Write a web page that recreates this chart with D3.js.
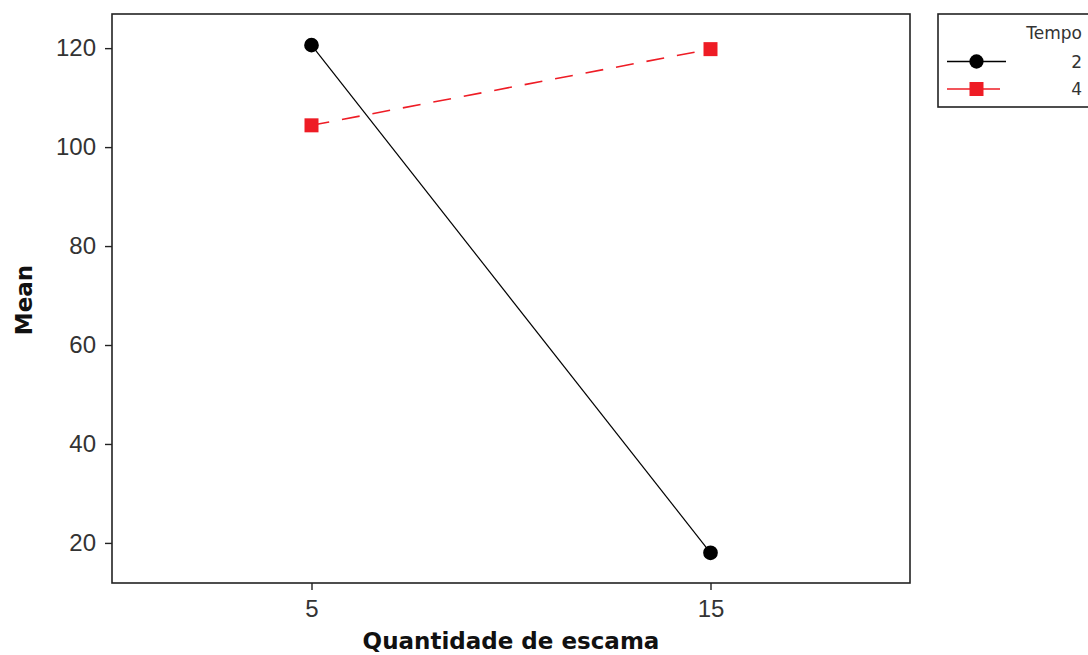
<!DOCTYPE html>
<html>
<head>
<meta charset="utf-8">
<script src="https://cdn.jsdelivr.net/npm/d3@7"></script>
<style>
  html, body { margin: 0; padding: 0; background: #fff; }
  svg { display: block; }
</style>
</head>
<body>
<svg id="chart" width="1088" height="655"></svg>
<script>
// Interaction plot: mean response by scale quantity for each time level
const xLevels = [5, 15];
const tempoLevels = ["2", "4"];
const meansTempo2 = [120.6, 18.0];
const meansTempo4 = [104.4, 119.8];
const yTicks = [20, 40, 60, 80, 100, 120];

const series = [
  { name: tempoLevels[0], values: meansTempo2, color: "#000000", dash: null, symbol: d3.symbolCircle },
  { name: tempoLevels[1], values: meansTempo4, color: "#ee1c25", dash: "18,13", symbol: d3.symbolSquare }
];

const svg = d3.select("#chart");
const box = { left: 112, right: 910, top: 14, bottom: 583 };
const font = "'DejaVu Sans', Verdana, sans-serif";
const tickFont = "'Liberation Sans', Arial, sans-serif";

const x = d3.scaleLinear().domain([0, 20]).range([box.left, box.right]);
const y = d3.scaleLinear().domain([11.9, 126.9]).range([box.bottom, box.top]);

// frame
svg.append("rect")
  .attr("x", box.left).attr("y", box.top)
  .attr("width", box.right - box.left).attr("height", box.bottom - box.top)
  .attr("fill", "none").attr("stroke", "#222").attr("stroke-width", 1.6);

// axes
const yAxis = svg.append("g")
  .attr("transform", `translate(${box.left},0)`)
  .call(d3.axisLeft(y).tickValues(yTicks).tickSize(7).tickPadding(9));
const xAxis = svg.append("g")
  .attr("transform", `translate(0,${box.bottom})`)
  .call(d3.axisBottom(x).tickValues(xLevels).tickSize(7).tickPadding(10));
[yAxis, xAxis].forEach(g => {
  g.select(".domain").remove();
  g.selectAll("line").attr("stroke", "#222").attr("stroke-width", 1.4);
  g.selectAll("text").attr("font-family", tickFont).attr("font-size", 24).attr("fill", "#333");
});

// axis titles
svg.append("text")
  .attr("x", (box.left + box.right) / 2).attr("y", 649)
  .attr("text-anchor", "middle")
  .attr("font-family", font).attr("font-weight", "bold").attr("font-size", 23)
  .attr("fill", "#111")
  .text("Quantidade de escama");
svg.append("text")
  .attr("transform", `translate(32,300) rotate(-90)`)
  .attr("text-anchor", "middle")
  .attr("font-family", font).attr("font-weight", "bold").attr("font-size", 23)
  .attr("fill", "#111")
  .text("Mean");

// series lines and markers
const line = d3.line().x((d, i) => x(xLevels[i])).y(d => y(d));
series.forEach(s => {
  svg.append("path")
    .datum(s.values)
    .attr("d", line)
    .attr("fill", "none")
    .attr("stroke", s.color)
    .attr("stroke-width", s.dash ? 1.6 : 1.2)
    .attr("stroke-dasharray", s.dash);
  svg.selectAll(null)
    .data(s.values)
    .enter().append("path")
    .attr("transform", (d, i) => `translate(${x(xLevels[i])},${y(d)})`)
    .attr("d", d3.symbol().type(s.symbol).size(s.symbol === d3.symbolSquare ? 196 : 170))
    .attr("fill", s.color);
});

// legend
const lg = svg.append("g");
lg.append("rect")
  .attr("x", 938).attr("y", 14).attr("width", 160).attr("height", 93)
  .attr("fill", "#fff").attr("stroke", "#222").attr("stroke-width", 1.6);
lg.append("text")
  .attr("x", 1082).attr("y", 39).attr("text-anchor", "end")
  .attr("font-family", font).attr("font-size", 17).attr("fill", "#333")
  .text("Tempo");
series.forEach((s, i) => {
  const yy = 61.5 + i * 27.5;
  lg.append("line")
    .attr("x1", 947).attr("x2", i === 0 ? 1006 : 1000)
    .attr("y1", yy).attr("y2", yy)
    .attr("stroke", s.color).attr("stroke-width", i === 0 ? 1.6 : 1.4);
  lg.append("path")
    .attr("transform", `translate(976.5,${yy})`)
    .attr("d", d3.symbol().type(s.symbol).size(s.symbol === d3.symbolSquare ? 196 : 160))
    .attr("fill", s.color);
  lg.append("text")
    .attr("x", 1082).attr("y", yy + 6).attr("text-anchor", "end")
    .attr("font-family", font).attr("font-size", 17).attr("fill", "#333")
    .text(s.name);
});
</script>
</body>
</html>
